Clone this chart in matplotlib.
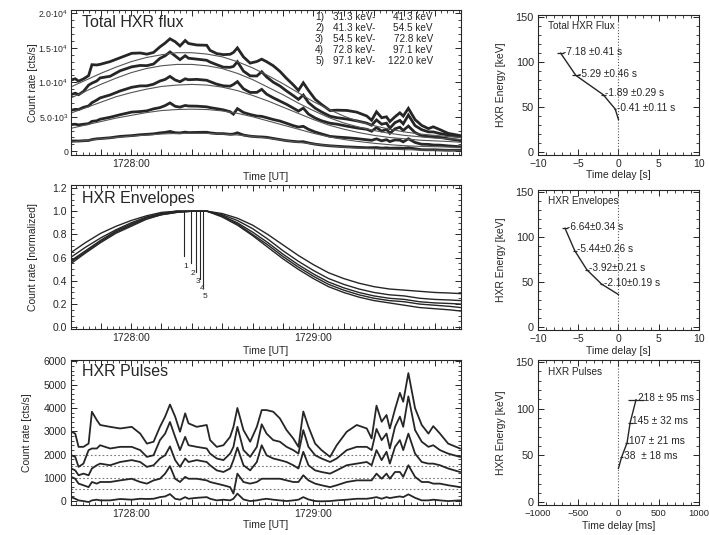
"""
HXR flux / envelope / pulse timing figure: left column time profiles,
right column energy-dependent time delays.
"""

import numpy as np
import matplotlib
matplotlib.use('Agg')
import matplotlib.pyplot as plt
from matplotlib.ticker import MultipleLocator, FuncFormatter

plt.rcParams['font.family'] = ['Liberation Sans', 'DejaVu Sans']
plt.rcParams['mathtext.fontset'] = 'custom'
plt.rcParams['mathtext.rm'] = 'Liberation Sans'
plt.rcParams['mathtext.it'] = 'Liberation Sans:italic'

INK = '#262626'

# time axis [s after 17:28:00 UT] for the high cadence profiles
t_sec = [-19.7, -18.4, -17.3, -15.7, -14.0, -12.9, -11.3, -10.2, -6.9, -3.6,
         0.2, 3.0, 5.2, 7.4, 9.5, 11.2, 12.8, 14.5, 16.1, 17.8,
         18.9, 21.6, 24.9, 26.0, 28.2, 30.4, 32.6, 33.7, 35.0, 37.0,
         39.2, 41.4, 43.0, 44.6, 46.8, 49.0, 51.2, 53.4, 55.1, 56.7,
         58.4, 60.6, 62.7, 65.5, 67.7, 71.0, 74.3, 77.6, 79.2, 80.8,
         82.5, 84.1, 85.2, 86.9, 88.5, 89.6, 91.3, 93.5, 95.7, 97.9,
         99.5, 101.7, 104.4, 108.3]

# total HXR flux [cts/s], channels 1-5
flux_1 = [10340, 10520, 10170, 10490, 10970, 12560, 12520, 12610, 13010, 13570,
          14210, 14260, 14090, 14340, 15150, 15700, 16320, 15900, 15280, 16070,
          15640, 15420, 15380, 14640, 14170, 14020, 14070, 14340, 15000, 13690,
          12790, 13020, 13360, 13000, 12410, 11590, 10560, 9630, 8830, 9930,
          8830, 7540, 6790, 5900, 5960, 5920, 5670, 5110, 4490, 5720,
          4860, 4990, 4300, 5000, 5570, 5100, 6220, 4580, 3740, 3280,
          3540, 3130, 2590, 2270]
flux_2 = [8230, 8420, 8210, 8670, 9590, 9880, 10200, 10640, 10880, 11680,
          12250, 12450, 12420, 12660, 13480, 13850, 14410, 13840, 13290, 13860,
          13500, 13370, 13200, 12940, 12560, 12200, 12180, 12310, 12990, 11630,
          10940, 10920, 11540, 10790, 10020, 9470, 8740, 8070, 7520, 8160,
          7060, 6250, 5700, 5080, 4870, 4670, 4410, 4070, 3770, 4540,
          3920, 4070, 3340, 4150, 4470, 3970, 5250, 3710, 3120, 2810,
          2800, 2560, 2360, 2100]
flux_3 = [5950, 6080, 6040, 6370, 6570, 7040, 7430, 7740, 8170, 8750,
          9280, 9480, 9490, 9730, 10190, 10420, 10860, 10340, 10090, 10510,
          10380, 10430, 10300, 10100, 9730, 9490, 9440, 9690, 10100, 9060,
          8530, 8540, 8980, 8290, 7750, 7280, 6800, 6260, 5820, 6260,
          5390, 4820, 4420, 4060, 3930, 3640, 3380, 3180, 2900, 3440,
          2910, 3170, 2600, 3250, 3480, 3010, 3650, 2700, 2250, 2130,
          2110, 2010, 1810, 1550]
flux_4 = [3870, 3920, 3820, 3910, 4000, 4330, 4420, 4640, 4930, 5300,
          5680, 5760, 5860, 6150, 6330, 6620, 7010, 6520, 6400, 6640,
          6560, 6540, 6440, 6330, 6170, 6000, 5730, 5380, 6180, 5620,
          5330, 5110, 5060, 4870, 4600, 4380, 4050, 3710, 3510, 3610,
          3180, 2790, 2510, 2150, 2060, 1960, 1830, 1660, 1580, 1790,
          1510, 1670, 1400, 1640, 1600, 1360, 1810, 1270, 1010, 990,
          900, 880, 770, 650]
flux_5 = [1490, 1480, 1470, 1520, 1560, 1690, 1800, 1830, 1950, 2150,
          2260, 2390, 2450, 2520, 2660, 2730, 2870, 2680, 2650, 2770,
          2700, 2730, 2750, 2660, 2560, 2550, 2450, 2490, 2670, 2340,
          2180, 2100, 2070, 2020, 1850, 1690, 1530, 1430, 1360, 1380,
          1200, 1020, 900, 780, 720, 630, 570, 500, 510, 530,
          440, 490, 430, 450, 460, 420, 520, 350, 220, 200,
          210, 170, 130, 150]

# smooth envelope fits of the total flux [cts/s]
fit_t = [-20, -15, -10, -5, 0, 5, 10, 15, 20, 25, 30, 35, 40, 45,
         50, 55, 60, 65, 70, 75, 80, 85, 90, 95, 100, 105, 108.5]
fit_1 = [9300, 10300, 11300, 12200, 13000, 13600, 14000, 14300, 14300, 14100, 13700, 13000, 12100, 11000,
         9800, 8500, 7200, 6100, 5100, 4300, 3700, 3200, 2800, 2500, 2300, 2100, 2000]
fit_2 = [7700, 8700, 9700, 10600, 11400, 12000, 12400, 12600, 12600, 12400, 12000, 11300, 10400, 9300,
         8200, 7000, 5900, 4900, 4100, 3500, 3000, 2600, 2300, 2100, 1900, 1800, 1700]
fit_3 = [5500, 6300, 7100, 7900, 8500, 9000, 9400, 9600, 9700, 9600, 9300, 8800, 8100, 7300,
         6400, 5500, 4600, 3800, 3200, 2700, 2300, 2000, 1800, 1600, 1500, 1400, 1300]
fit_4 = [3300, 3800, 4300, 4800, 5200, 5600, 5900, 6050, 6100, 6050, 5850, 5500, 5000, 4400,
         3800, 3200, 2600, 2100, 1700, 1400, 1150, 950, 800, 700, 650, 600, 550]
fit_5 = [1300, 1550, 1800, 2000, 2200, 2350, 2500, 2580, 2600, 2580, 2500, 2350, 2150, 1900,
         1600, 1300, 1050, 800, 600, 450, 350, 280, 220, 180, 150, 130, 120]

# normalized envelopes on the same time grid
env_1 = [0.64, 0.73, 0.81, 0.87, 0.92, 0.96, 0.99, 1.0, 1.0, 1.0, 0.98, 0.94, 0.88, 0.80,
         0.71, 0.62, 0.54, 0.47, 0.42, 0.38, 0.35, 0.33, 0.32, 0.31, 0.30, 0.295, 0.29]
env_2 = [0.60, 0.69, 0.77, 0.84, 0.90, 0.95, 0.98, 1.0, 1.0, 1.0, 0.97, 0.92, 0.85, 0.76,
         0.66, 0.57, 0.49, 0.42, 0.37, 0.33, 0.30, 0.28, 0.27, 0.25, 0.24, 0.235, 0.23]
env_3 = [0.57, 0.66, 0.75, 0.83, 0.89, 0.94, 0.98, 1.0, 1.0, 1.0, 0.96, 0.90, 0.82, 0.73,
         0.63, 0.54, 0.46, 0.39, 0.34, 0.30, 0.27, 0.25, 0.24, 0.22, 0.21, 0.205, 0.20]
env_4 = [0.56, 0.65, 0.74, 0.82, 0.88, 0.94, 0.97, 0.99, 1.0, 1.0, 0.96, 0.89, 0.80, 0.71,
         0.61, 0.52, 0.44, 0.37, 0.32, 0.28, 0.25, 0.23, 0.22, 0.20, 0.19, 0.18, 0.17]
env_5 = [0.545, 0.64, 0.73, 0.81, 0.87, 0.93, 0.97, 0.99, 1.0, 1.0, 0.95, 0.88, 0.79, 0.69,
         0.59, 0.50, 0.42, 0.35, 0.30, 0.26, 0.23, 0.21, 0.19, 0.17, 0.16, 0.15, 0.14]

# envelope peak markers
peak_t = [17.4, 19.7, 21.4, 22.6, 23.8]
peak_bottom = [0.61, 0.55, 0.48, 0.42, 0.35]
peak_labels = ['1', '2', '3', '4', '5']

# pulses [cts/s] (flux minus envelope, plotted with offsets)
pulse_1 = [2980, 2900, 2330, 2330, 2470, 3840, 3480, 3270, 3190, 3120,
           3190, 2900, 2470, 2550, 3190, 3630, 4150, 3630, 2980, 3770,
           3340, 3190, 3270, 2620, 2330, 2400, 2760, 3190, 4000, 3050,
           2550, 3190, 3910, 3910, 3840, 3550, 3050, 2690, 2330, 3850,
           3190, 2470, 2190, 1900, 2400, 2980, 3270, 3120, 2690, 4100,
           3410, 3700, 3120, 3950, 4650, 4270, 5500, 3990, 3270, 2900,
           3220, 2900, 2470, 2260]
pulse_2 = [1970, 1900, 1470, 1610, 2190, 2260, 2260, 2400, 2260, 2330,
           2330, 2190, 1900, 1970, 2620, 2900, 3400, 2760, 2190, 2760,
           2400, 2330, 2260, 2040, 1830, 1760, 2040, 2330, 3190, 2190,
           1900, 2330, 3300, 2900, 2620, 2550, 2330, 2190, 2040, 3050,
           2330, 1970, 1830, 1680, 1830, 2190, 2330, 2330, 2190, 3100,
           2620, 2900, 2260, 3190, 3630, 3190, 4500, 3050, 2550, 2330,
           2400, 2190, 2040, 1900]
pulse_3 = [1400, 1320, 1110, 1180, 1110, 1400, 1540, 1610, 1540, 1680,
           1760, 1680, 1470, 1540, 1830, 1970, 2350, 1760, 1470, 1830,
           1680, 1760, 1680, 1540, 1320, 1250, 1400, 1760, 2300, 1540,
           1320, 1680, 2400, 1970, 1830, 1760, 1680, 1540, 1400, 2120,
           1540, 1320, 1250, 1180, 1320, 1540, 1610, 1680, 1540, 2190,
           1760, 2120, 1610, 2330, 2620, 2190, 2900, 2040, 1680, 1610,
           1610, 1540, 1400, 1250]
pulse_4 = [1040, 960, 750, 680, 600, 820, 750, 820, 820, 890,
           960, 820, 750, 890, 960, 1180, 1500, 960, 820, 1040,
           960, 960, 890, 820, 750, 680, 600, 320, 1180, 820,
           750, 820, 960, 960, 960, 960, 890, 820, 820, 1110,
           890, 750, 680, 600, 680, 820, 890, 890, 890, 1180,
           960, 1180, 960, 1250, 1250, 1040, 1540, 1040, 820, 820,
           750, 750, 680, 600]
pulse_5 = [170, 100, 30, 0, -40, 30, 60, 30, 30, 90,
           60, 100, 90, 100, 170, 200, 300, 100, 60, 170,
           100, 140, 170, 100, 30, 60, 30, 100, 320, 70,
           0, 30, 70, 100, 60, 30, 0, 30, 60, 170,
           70, 0, -10, 0, 30, 60, 100, 100, 130, 170,
           100, 170, 130, 170, 200, 170, 290, 140, 30, 30,
           60, 30, 0, 30]
pulse_base = [500, 1000, 1500, 2000]

# energy bands
band_lo = [31.3, 41.3, 54.5, 72.8, 97.1]
band_hi = [41.3, 54.5, 72.8, 97.1, 122.0]
energy_kev = [36.3, 47.9, 63.65, 84.95, 109.55]

# time delays relative to channel 1
flux_delay = [0.0, -0.41, -1.89, -5.29, -7.18]
flux_err = [0.0, 0.11, 0.29, 0.46, 0.41]
flux_txt = ['', '-0.41 \u00b10.11 s', '-1.89 \u00b10.29 s', '-5.29 \u00b10.46 s', '-7.18 \u00b10.41 s']
env_delay = [0.0, -2.10, -3.92, -5.44, -6.64]
env_err = [0.0, 0.19, 0.21, 0.26, 0.34]
env_txt = ['', '-2.10\u00b10.19 s', '-3.92\u00b10.21 s', '-5.44\u00b10.26 s', '-6.64\u00b10.34 s']
pulse_delay = [0, 38, 107, 145, 218]
pulse_err = [0, 18, 21, 32, 95]
pulse_txt = ['', '38  \u00b1 18 ms', '107 \u00b1 21 ms', '145 \u00b1 32 ms', '218 \u00b1 95 ms']


def ut_formatter(labelled):
    def fmt(v, pos):
        m = int(round(v / 60.0))
        if abs(v - 60 * m) > 1e-6 or m not in labelled:
            return ''
        return '17%02d:00' % (28 + m)
    return FuncFormatter(fmt)


def sci_fmt(v, pos):
    if abs(v) < 1e-9:
        return '0'
    e = int(np.floor(np.log10(abs(v))))
    return r'$\mathregular{%.1f{\cdot}10^{%d}}$' % (v / 10**e, e)


def idl_axes(ax):
    ax.tick_params(which='both', direction='in', top=True, right=True,
                   labelsize=7.5, colors=INK, pad=3)
    ax.tick_params(which='major', length=4.5, width=0.7)
    ax.tick_params(which='minor', length=2.2, width=0.6)
    for s in ax.spines.values():
        s.set_linewidth(0.8)
        s.set_color(INK)


def time_axis(ax, labelled):
    ax.set_xlim(-19.8, 108.6)
    ax.xaxis.set_major_locator(MultipleLocator(10))
    ax.xaxis.set_minor_locator(MultipleLocator(2))
    ax.xaxis.set_major_formatter(ut_formatter(labelled))
    ax.set_xlabel('Time [UT]', fontsize=7.5, color=INK)
    ax.xaxis.set_label_coords(0.5, -0.115)


fig = plt.figure(figsize=(7.09, 5.35), dpi=100)
fig.patch.set_facecolor('white')

ax1 = fig.add_axes([0.1001, 0.7103, 0.550, 0.271])
ax2 = fig.add_axes([0.1001, 0.3850, 0.550, 0.269])
ax3 = fig.add_axes([0.1001, 0.0560, 0.550, 0.271])
ax4 = fig.add_axes([0.7588, 0.7103, 0.227, 0.262])
ax5 = fig.add_axes([0.7588, 0.3830, 0.227, 0.262])
ax6 = fig.add_axes([0.7588, 0.0560, 0.227, 0.271])

# --- total HXR flux
for f in [flux_1, flux_2, flux_3, flux_4, flux_5]:
    ax1.plot(t_sec, f, color=INK, lw=2.0, solid_joinstyle='miter')
for f in [fit_1, fit_2, fit_3, fit_4, fit_5]:
    ax1.plot(fit_t, f, color='#555555', lw=0.8)
idl_axes(ax1)
ax1.tick_params(axis='y', labelsize=6.3, pad=2)
time_axis(ax1, [0])
ax1.set_ylim(-550, 20500)
ax1.yaxis.set_major_locator(MultipleLocator(5000))
ax1.yaxis.set_minor_locator(MultipleLocator(1000))
ax1.yaxis.set_major_formatter(FuncFormatter(sci_fmt))
ax1.set_ylabel('Count rate [cts/s]', fontsize=7.5, color=INK)
ax1.yaxis.set_label_coords(-0.085, 0.5)
ax1.text(0.028, 0.915, 'Total HXR flux', transform=ax1.transAxes,
         fontsize=11.5, color=INK, va='center')
for i in range(5):
    y = 0.95 - i * 0.076
    ax1.text(0.626, y, '%d)' % (i + 1), transform=ax1.transAxes,
             fontsize=7.2, color=INK, va='center')
    ax1.text(0.672, y, '%.1f keV-' % band_lo[i], transform=ax1.transAxes,
             fontsize=7.2, color=INK, va='center')
    ax1.text(0.928, y, '%.1f keV' % band_hi[i], transform=ax1.transAxes,
             fontsize=7.2, color=INK, va='center', ha='right')

# --- envelopes
for e in [env_1, env_2, env_3, env_4, env_5]:
    ax2.plot(fit_t, e, color=INK, lw=1.0)
for tp, yb, lab in zip(peak_t, peak_bottom, peak_labels):
    ax2.plot([tp, tp], [1.0, yb], color=INK, lw=0.8)
    ax2.annotate(lab, (tp, yb), xytext=(1.5, -7), textcoords='offset points',
                 fontsize=6, color=INK, ha='center', va='center')
idl_axes(ax2)
time_axis(ax2, [0, 1])
ax2.set_ylim(-0.015, 1.225)
ax2.yaxis.set_major_locator(MultipleLocator(0.2))
ax2.yaxis.set_minor_locator(MultipleLocator(0.05))
ax2.yaxis.set_major_formatter(FuncFormatter(lambda v, p: '%.1f' % v))
ax2.set_ylabel('Count rate [normalized]', fontsize=7.5, color=INK)
ax2.yaxis.set_label_coords(-0.085, 0.5)
ax2.text(0.028, 0.91, 'HXR Envelopes', transform=ax2.transAxes,
         fontsize=11.5, color=INK, va='center')

# --- pulses
for b in pulse_base:
    ax3.axhline(b, color='#777777', lw=0.8, ls=(0, (1.5, 2)))
for p in [pulse_1, pulse_2, pulse_3, pulse_4, pulse_5]:
    ax3.plot(t_sec, p, color=INK, lw=1.3)
idl_axes(ax3)
time_axis(ax3, [0, 1])
ax3.xaxis.set_label_coords(0.5, -0.105)
ax3.set_ylim(-170, 6060)
ax3.yaxis.set_major_locator(MultipleLocator(1000))
ax3.yaxis.set_minor_locator(MultipleLocator(200))
ax3.set_ylabel('Count rate [cts/s]', fontsize=7.5, color=INK)
ax3.yaxis.set_label_coords(-0.1, 0.5)
ax3.text(0.028, 0.92, 'HXR Pulses', transform=ax3.transAxes,
         fontsize=11.5, color=INK, va='center')

# --- time delay panels
delay_sets = [
    (ax4, flux_delay, flux_err, flux_txt, 'Total HXR Flux', 'Time delay [s]', 10, 5, 1, 7.5),
    (ax5, env_delay, env_err, env_txt, 'HXR Envelopes', 'Time delay [s]', 10, 5, 1, 7.5),
    (ax6, pulse_delay, pulse_err, pulse_txt, 'HXR Pulses', 'Time delay [ms]', 1000, 500, 100, 6.8),
]
for ax, d, de, txt, title, xlab, xr, xmaj, xmin, xls in delay_sets:
    ax.axvline(0, color='#555555', lw=0.8, ls=(0, (1, 1.6)))
    ax.plot(d, energy_kev, color=INK, lw=1.0)
    ax.errorbar(d, energy_kev, xerr=de, fmt='none', ecolor=INK, elinewidth=0.9, capsize=0)
    for xi, yi, s in zip(d, energy_kev, txt):
        if s:
            ax.annotate(s, (xi, yi), xytext=(1.5, 1), textcoords='offset points',
                        fontsize=7.3, color=INK, va='center', ha='left')
    idl_axes(ax)
    ax.tick_params(axis='y', labelsize=7.8)
    ax.tick_params(axis='x', labelsize=xls)
    ax.set_xlim(-xr, xr)
    ax.set_ylim(-3, 152)
    ax.xaxis.set_major_locator(MultipleLocator(xmaj))
    ax.xaxis.set_minor_locator(MultipleLocator(xmin))
    ax.yaxis.set_major_locator(MultipleLocator(50))
    ax.yaxis.set_minor_locator(MultipleLocator(10))
    ax.set_xlabel(xlab, fontsize=7.5, color=INK)
    ax.xaxis.set_label_coords(0.5, -0.11)
    ax.set_ylabel('HXR Energy [keV]', fontsize=7.5, color=INK)
    ax.yaxis.set_label_coords(-0.2, 0.5)
    ax.text(0.06, 0.955, title, transform=ax.transAxes, fontsize=7.2,
            color=INK, va='top')

fig.savefig('out.png', dpi=100, facecolor='white')
